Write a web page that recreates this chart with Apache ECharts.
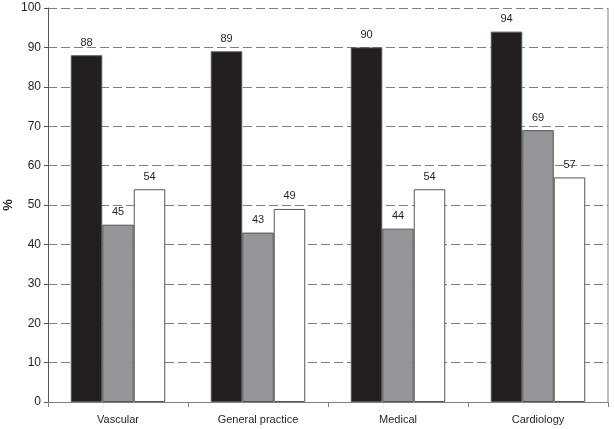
<!DOCTYPE html>
<html><head><meta charset="utf-8">
<script src="https://cdn.jsdelivr.net/npm/echarts@6/dist/echarts.min.js"></script>
<style>html,body{margin:0;padding:0;background:#fff}#c{width:614px;height:429px}</style>
</head><body><div id="c"></div>
<script>
const categories = ['Vascular', 'General practice', 'Medical', 'Cardiology'];
const seriesA = [88, 89, 90, 94];
const seriesB = [45, 43, 44, 69];
const seriesC = [54, 49, 54, 57];
const yTicks = [0, 10, 20, 30, 40, 50, 60, 70, 80, 90, 100];

const chart = echarts.init(document.getElementById('c'));
const font = 'Liberation Sans, Arial, sans-serif';
const lbl = {show: true, position: 'top', distance: 7, color: '#231f20', fontSize: 11, fontFamily: font};
function s(data, color, border) {
  return {type: 'bar', data: data, barWidth: '22.5%', barGap: '0%',
    itemStyle: {color: color, borderColor: border, borderWidth: 1},
    label: lbl};
}
chart.setOption({
  animation: false,
  grid: {left: 48, right: 6, top: 8, bottom: 27, containLabel: false, outerBoundsMode: 'none'},
  xAxis: {type: 'category', data: categories,
    axisLine: {lineStyle: {color: '#808080', width: 1}},
    axisTick: {show: true, alignWithLabel: false, length: 5, lineStyle: {color: '#808080'}},
    axisLabel: {color: '#231f20', fontSize: 11, fontFamily: font, margin: 12}},
  yAxis: {type: 'value', min: yTicks[0], max: yTicks[yTicks.length - 1], interval: 10,
    name: '%', nameLocation: 'middle', nameGap: 33, nameRotate: 90, nameMoveOverlap: false,
    nameTextStyle: {fontWeight: 'bold', fontSize: 13, color: '#231f20', fontFamily: font},
    axisLine: {show: true, lineStyle: {color: '#555', width: 1}},
    axisTick: {show: true, length: 4, lineStyle: {color: '#555'}},
    axisLabel: {color: '#231f20', fontSize: 12, fontFamily: font, margin: 7},
    splitLine: {show: true, lineStyle: {color: '#808080', type: [9, 4], width: 1}}},
  series: [
    s(seriesA, '#231f20', '#555'),
    s(seriesB, '#939598', '#555'),
    s(seriesC, '#ffffff', '#555')
  ],
  graphic: [{type: 'line', shape: {x1: 608, y1: 8, x2: 608, y2: 402}, style: {stroke: '#808080', lineWidth: 1}}]
});
</script></body></html>
